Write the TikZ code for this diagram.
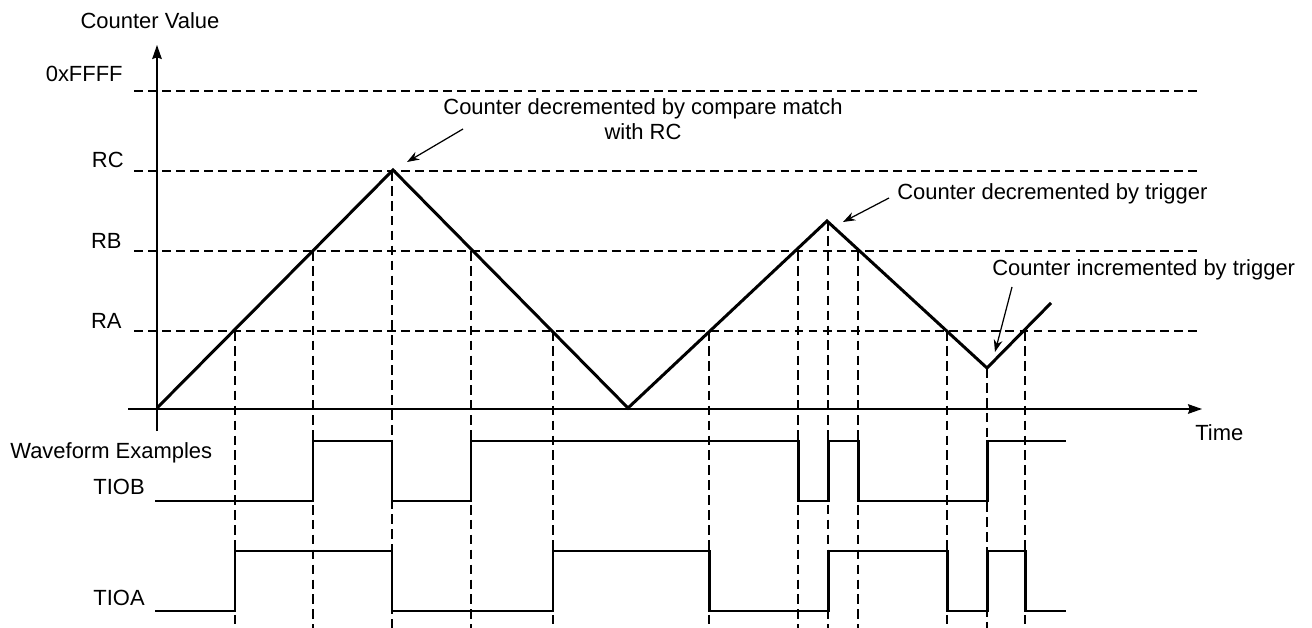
\documentclass[tikz,border=0pt]{standalone}
\usepackage{fontspec}
\setmainfont{Liberation Sans}
\usepackage{tikz}
\usetikzlibrary{positioning,arrows.meta}
\newcommand\lblfont{\fontsize{12.5}{14.2}\selectfont}

\begin{document}
\begin{tikzpicture}[x=0.02cm, y=-0.02cm,
    every node/.style={font=\lblfont, inner sep=0pt},
    axis/.style={line width=0.75pt, -{Stealth[length=8pt, width=5.5pt, inset=1pt]}},
    level/.style={line width=0.7pt, dash pattern=on 5pt off 3pt},
    guide/.style={line width=0.6pt, dash pattern=on 5.5pt off 3pt},
    signal/.style={line width=1.7pt, line join=miter},
    note/.style={line width=0.7pt, -{Stealth[length=7pt, width=5pt]}}]
    \useasboundingbox (0,0) rectangle (1312,628);

    % level labels and dashed levels
    \node[anchor=base east] (lffff) at (123,82)  {0xFFFF};
    \node[anchor=base east] (lrc)   at (124,168) {RC};
    \node[anchor=base east] (lrb)   at (122,249) {RB};
    \node[anchor=base east] (lra)   at (122,328) {RA};
    \foreach \y in {91,171,251,331}
      \draw[level] (134,\y) -- (1199,\y);

    % axes
    \node (cval) at (150,21) {Counter Value};
    \node[anchor=west] (time) at (1195,433) {Time};
    \draw[axis] (157,431) -- (157,45);
    \draw[axis] (128,409) -- (1202,409);

    % vertical guides
    \foreach \x/\y in {235/331, 313/251, 392/171, 471/251, 553/331, 709/331,
                       798/251, 828/221, 858/251, 947/331, 987/368, 1025/331}
      \draw[guide] (\x,\y) -- (\x,628);

    % counter value
    \coordinate (org)    at (157,408);
    \coordinate (pkrc)   at (393,170);
    \coordinate (zero)   at (628,408);
    \coordinate (pktrig) at (827,221);
    \coordinate (trtrig) at (987,368);
    \coordinate (stop)   at (1051,303);
    \draw[signal] (org) -- (pkrc) -- (zero) -- (pktrig) -- (trtrig) -- (stop);

    % annotations
    \node[align=center] (cmp) at (643,119) {Counter decremented by compare match\\with RC};
    \node[anchor=west] (dectrig) at (897,194) {Counter decremented by trigger};
    \node[anchor=west] (inctrig) at (992,270) {Counter incremented by trigger};
    \coordinate (cmptail) at (463,129);
    \coordinate (dectail) at (889,198);
    \coordinate (inctail) at (1012,287);
    \draw[note] (cmptail) -- (407,162);
    \draw[note] (dectail) -- (843,222);
    \draw[note] (inctail) -- (995,352);

    % waveforms
    \node[anchor=west] (wave) at (10,453) {Waveform Examples};
    \node[anchor=east] (tiob) at (145,487) {TIOB};
    \node[anchor=east] (tioa) at (145,598) {TIOA};
    \draw[signal] (155,501) -- (313,501) -- (313,441) -- (392,441) -- (392,501)
      -- (471,501) -- (471,441) -- (798,441) -- (798,501) -- (828,501)
      -- (828,441) -- (858,441) -- (858,501) -- (987,501) -- (987,441) -- (1066,441);
    \draw[signal] (155,611) -- (235,611) -- (235,551) -- (392,551) -- (392,611)
      -- (553,611) -- (553,551) -- (709,551) -- (709,611) -- (828,611)
      -- (828,551) -- (947,551) -- (947,611) -- (987,611) -- (987,551)
      -- (1025,551) -- (1025,611) -- (1066,611);
\end{tikzpicture}
\end{document}
